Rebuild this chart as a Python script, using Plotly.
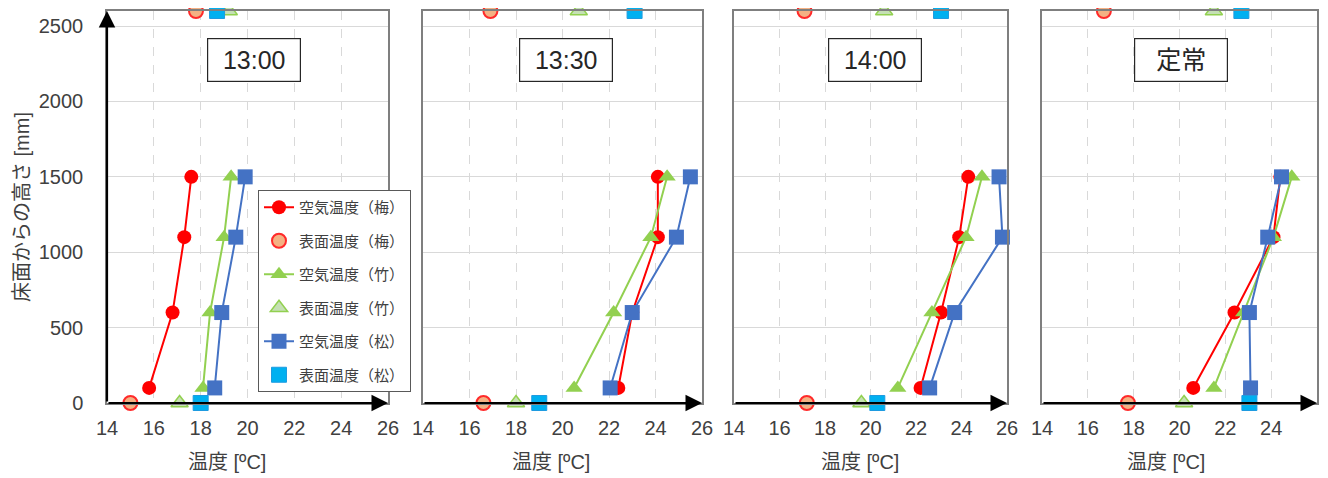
import plotly.graph_objects as go

# ---------------- data ----------------
panels = ["13:00", "13:30", "14:00", "定常"]
air_heights = [100, 600, 1100, 1500]      # mm
surf_heights = [0, 2600]                  # floor, ceiling (mm)

ume_air = [[15.8, 16.8, 17.3, 17.6], [22.4, 23.0, 24.1, 24.1],
           [22.2, 23.1, 23.9, 24.3], [20.6, 22.4, 24.1, 24.4]]
ume_surf = [[15.0, 17.8], [16.6, 16.9], [17.2, 17.1], [17.75, 16.7]]
take_air = [[18.1, 18.4, 19.0, 19.3], [20.5, 22.2, 23.8, 24.5],
            [21.2, 22.7, 24.2, 24.9], [21.5, 22.8, 24.1, 24.9]]
take_surf = [[17.1, 19.2], [18.0, 20.7], [19.6, 20.6], [20.2, 21.5]]
matsu_air = [[18.6, 18.9, 19.5, 19.9], [22.05, 23.0, 24.9, 25.5],
             [22.6, 23.7, 25.8, 25.65], [23.1, 23.05, 23.85, 24.45]]
matsu_surf = [[18.0, 18.7], [19.0, 23.1], [20.3, 23.1], [23.05, 22.7]]

names = ["空気温度（梅）", "表面温度（梅）", "空気温度（竹）",
         "表面温度（竹）", "空気温度（松）", "表面温度（松）"]
x_ticks = [14, 16, 18, 20, 22, 24, 26]
y_ticks = [0, 500, 1000, 1500, 2000, 2500]

# ---------------- layout constants ----------------
# page body has an 8px margin -> figure origin sits at (8, 8) of the window
OFF = 8
W, H = 1328 - OFF, 478 - OFF


def fx(px):
    return (px - OFF) / W


def fy(py):
    return 1 - (py - OFF) / H


px_dom = [(107, 388), (423, 702), (734, 1007), (1042, 1317)]
y_bottom_px, y_top_px = 403, 11
FONT = "Liberation Sans, Arial, Noto Sans CJK JP"

fig = go.Figure()

for i in range(4):
    xa = "x" if i == 0 else f"x{i+1}"
    ya = "y" if i == 0 else f"y{i+1}"
    show = (i == 0)
    series = [
        (ume_air[i], air_heights, dict(mode="lines+markers",
             line=dict(color="#FF0000", width=2),
             marker=dict(symbol="circle", size=14, color="#FF0000"))),
        (ume_surf[i], surf_heights, dict(mode="markers",
             marker=dict(symbol="circle", size=14, color="#F4B183",
                         line=dict(color="#FF2A2A", width=2)))),
        (take_air[i], air_heights, dict(mode="lines+markers",
             line=dict(color="#92D050", width=2),
             marker=dict(symbol="triangle-up", size=15, color="#92D050"))),
        (take_surf[i], surf_heights, dict(mode="markers",
             marker=dict(symbol="triangle-up", size=15, color="#C5E0B4",
                         line=dict(color="#92D050", width=1.5)))),
        (matsu_air[i], air_heights, dict(mode="lines+markers",
             line=dict(color="#4472C4", width=2),
             marker=dict(symbol="square", size=15, color="#4472C4"))),
        (matsu_surf[i], surf_heights, dict(mode="markers",
             marker=dict(symbol="square", size=15, color="#00B0F0",
                         line=dict(color="#1E9BE0", width=1)))),
    ]
    for k, (xs, ys, style) in enumerate(series):
        fig.add_trace(go.Scatter(x=xs, y=ys, name=names[k], xaxis=xa, yaxis=ya,
                                 showlegend=show, legendgroup=f"g{k}",
                                 cliponaxis=False, **style))

    x0, x1 = px_dom[i]
    xkey = "xaxis" if i == 0 else f"xaxis{i+1}"
    ykey = "yaxis" if i == 0 else f"yaxis{i+1}"
    fig.update_layout({
        xkey: dict(domain=[fx(x0), fx(x1)], range=[14, 26], tickvals=x_ticks,
                   anchor=ya, automargin=False,
                   showgrid=True, gridcolor="#D9D9D9", griddash="dash",
                   gridwidth=1, zeroline=False, showline=True, mirror=True,
                   linecolor="#7F7F7F", linewidth=1.5,
                   ticks="outside", ticklen=6, tickcolor="rgba(0,0,0,0)",
                   tickfont=dict(family=FONT, size=20, color="#404040")),
        ykey: dict(domain=[fy(y_bottom_px), fy(y_top_px)], range=[0, 2600],
                   tickvals=y_ticks, anchor=xa, automargin=False,
                   showgrid=True, gridcolor="#D9D9D9",
                   gridwidth=1, zeroline=False, showline=True, mirror=True,
                   linecolor="#7F7F7F", linewidth=1.5, showticklabels=(i == 0),
                   ticks="outside", ticklen=18, tickcolor="rgba(0,0,0,0)",
                   tickfont=dict(family=FONT, size=20, color="#404040")),
    })

annotations = []
title_cx = [253.5, 565.5, 875, 1181]
xtitle_cx = [227, 551, 860, 1166]
for i in range(4):
    xa = "x" if i == 0 else f"x{i+1}"
    ya = "y" if i == 0 else f"y{i+1}"
    # x axis arrow
    annotations.append(dict(x=26, y=0, ax=14, ay=0, xref=xa, yref=ya, axref=xa, ayref=ya,
                            text="", showarrow=True, arrowhead=2, arrowsize=1.5,
                            arrowwidth=2.2, arrowcolor="black"))
    # panel label box
    annotations.append(dict(x=fx(title_cx[i]), y=fy(59.5), xref="paper", yref="paper",
                            xanchor="center", yanchor="middle",
                            text=panels[i], showarrow=False, width=90, height=40,
                            bordercolor="#262626", borderwidth=1.2, borderpad=1,
                            bgcolor="white",
                            font=dict(family=FONT, size=25, color="#262626")))
    # x axis title
    annotations.append(dict(x=fx(xtitle_cx[i]), y=fy(462), xref="paper", yref="paper",
                            xanchor="center", yanchor="middle",
                            text="温度 [ºC]", showarrow=False,
                            font=dict(family=FONT, size=20, color="#404040")))

# y axis arrow (first panel)
annotations.append(dict(x=14, y=2600, ax=14, ay=0, xref="x", yref="y", axref="x", ayref="y",
                        text="", showarrow=True, arrowhead=2, arrowsize=1.5,
                        arrowwidth=2.2, arrowcolor="black"))
# y axis title
annotations.append(dict(x=fx(22), y=fy(207), xref="paper", yref="paper",
                        xanchor="center", yanchor="middle",
                        text="床面からの高さ [mm]", textangle=-90, showarrow=False,
                        font=dict(family=FONT, size=20, color="#404040")))

fig.update_layout(
    width=W, height=H,
    margin=dict(l=0, r=0, t=0, b=0, autoexpand=False),
    paper_bgcolor="white", plot_bgcolor="white",
    annotations=annotations,
    legend=dict(x=fx(258), y=fy(190), xanchor="left", yanchor="top",
                bgcolor="white", bordercolor="#595959", borderwidth=1,
                font=dict(family=FONT, size=15, color="#404040"),
                traceorder="grouped", tracegroupgap=11, itemwidth=30),
)

fig.write_html("out.html")
